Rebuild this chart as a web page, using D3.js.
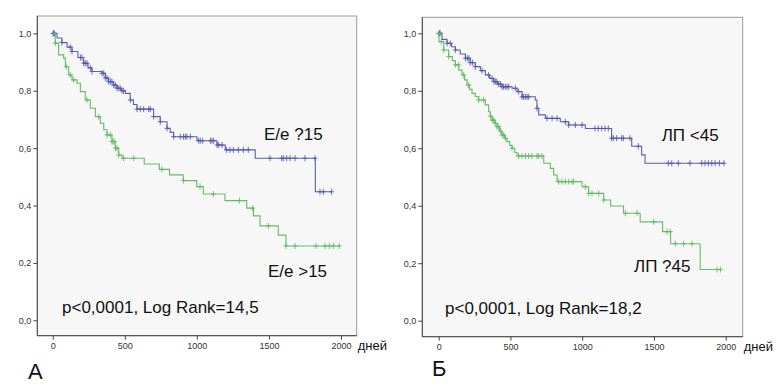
<!DOCTYPE html>
<html><head><meta charset="utf-8">
<script src="https://cdn.jsdelivr.net/npm/d3@7"></script>
<style>
html,body{margin:0;padding:0;background:#fff;}
svg{display:block;}
text{font-family:"Liberation Sans",Arial,sans-serif;}
</style></head>
<body>
<svg id="c" width="782" height="391"></svg>
<script>
// ---------- DATA ----------
const yTicks = [0, 0.2, 0.4, 0.6, 0.8, 1.0];
const xTicks = [0, 500, 1000, 1500, 2000];
const xUnit = "дней";

// Panel A: E/e <=15 (blue) and E/e >15 (green). [time, survival after step]
const stepsA_low = [[0,1.0],[30,0.984],[64,0.968],[100,0.952],[134,0.937],[175,0.916],[215,0.896],[245,0.88],[272,0.867],[342,0.861],[365,0.845],[388,0.832],[420,0.82],[446,0.809],[475,0.80],[504,0.791],[538,0.768],[560,0.752],[585,0.736],[700,0.710],[746,0.692],[793,0.669],[815,0.655],[839,0.640],[1001,0.626],[1140,0.611],[1197,0.594],[1405,0.565],[1822,0.448]];
const endA_low = 1937;
const censA_low = [3,8,11,64,122,134,192,203,215,226,238,261,273,342,354,365,377,388,400,411,423,434,446,458,469,481,492,539,585,608,631,666,677,700,746,793,839,885,907,920,931,955,1013,1024,1040,1094,1105,1117,1140,1152,1175,1207,1230,1253,1288,1322,1357,1507,1589,1600,1623,1646,1681,1750,1820,1854,1877,1935];

const stepsA_high = [[0,1.0],[18,0.966],[41,0.925],[76,0.913],[88,0.884],[111,0.855],[134,0.838],[169,0.826],[192,0.797],[226,0.768],[261,0.739],[296,0.710],[330,0.687],[354,0.664],[377,0.646],[411,0.623],[434,0.600],[458,0.576],[481,0.565],[635,0.545],[740,0.526],[810,0.507],[905,0.487],[999,0.466],[1045,0.440],[1195,0.417],[1346,0.391],[1392,0.364],[1438,0.329],[1565,0.297],[1618,0.259]];
const endA_high = 1993;
const censA_high = [18,94,122,145,238,319,377,400,411,418,427,436,446,458,492,562,758,908,1022,1114,1295,1387,1496,1618,1681,1827,1889,1919,1947,1988];

// Panel Б: ЛП <45 (blue) and ЛП >=45 (green)
const stepsB_low = [[0,1.0],[23,0.979],[58,0.965],[90,0.953],[116,0.942],[150,0.928],[186,0.913],[220,0.898],[255,0.884],[290,0.87],[325,0.855],[355,0.843],[383,0.832],[410,0.823],[441,0.814],[511,0.809],[546,0.797],[581,0.779],[673,0.768],[685,0.739],[697,0.716],[743,0.704],[847,0.692],[906,0.681],[1022,0.669],[1205,0.635],[1345,0.607],[1414,0.577],[1438,0.548]];
const endB_low = 1995;
const censB_low = [5,10,58,81,116,186,200,210,220,235,255,302,348,372,385,395,405,418,430,441,452,464,476,488,534,557,581,592,604,616,627,685,755,790,825,882,906,952,999,1089,1112,1136,1159,1182,1205,1217,1240,1275,1287,1333,1391,1600,1624,1670,1751,1833,1856,1879,1903,1926,1956,1988];

const stepsB_high = [[0,1.0],[2,0.971],[35,0.942],[70,0.919],[95,0.905],[116,0.890],[140,0.872],[162,0.855],[180,0.838],[197,0.820],[215,0.805],[232,0.791],[255,0.78],[279,0.768],[325,0.751],[348,0.727],[360,0.712],[372,0.698],[390,0.687],[406,0.675],[425,0.66],[441,0.646],[460,0.635],[476,0.623],[495,0.61],[511,0.600],[530,0.585],[546,0.573],[732,0.548],[778,0.530],[801,0.507],[825,0.484],[999,0.466],[1045,0.443],[1150,0.420],[1198,0.399],[1288,0.374],[1404,0.344],[1560,0.310],[1616,0.268],[1822,0.178]];
const endB_high = 1962;
const censB_high = [0,18,35,70,116,139,174,209,279,313,360,372,383,395,406,418,430,441,453,465,511,557,581,604,627,650,685,697,720,836,859,882,906,929,941,1022,1045,1068,1115,1150,1301,1382,1498,1591,1614,1649,1707,1765,1940,1963];

const labelsA = {hi:"E/e ?15", lo:"E/e >15", stat:"p<0,0001, Log Rank=14,5", panel:"А"};
const labelsB = {hi:"ЛП <45", lo:"ЛП ?45", stat:"p<0,0001, Log Rank=18,2", panel:"Б"};

// ---------- STYLE / LAYOUT ----------
const BLUE = "#5257aa", GREEN = "#5fb75f";
const panels = [
  {frame:[37.3,16,356.7,335.7], x:[52.7,341], y:[320.3,33.4],
   series:[{steps:stepsA_low,end:endA_low,cens:censA_low,color:BLUE},
           {steps:stepsA_high,end:endA_high,cens:censA_high,color:GREEN}],
   labels:labelsA,
   pos:{hi:[264,140],lo:[268,276.7],stat:[62,312.7],panel:[28,379.3]}},
  {frame:[422.3,17.3,742.7,336.7], x:[438.7,725.7], y:[320.7,33.3],
   series:[{steps:stepsB_low,end:endB_low,cens:censB_low,color:BLUE},
           {steps:stepsB_high,end:endB_high,cens:censB_high,color:GREEN}],
   labels:labelsB,
   pos:{hi:[661.7,140.7],lo:[634,272],stat:[445,314],panel:[432,376]}}
];

const svg = d3.select("#c");
const fmt = d => d3.format(".1f")(d).replace(".", ",");

function survAt(steps, t){
  let s = steps[0][1];
  for (const [tt, v] of steps){ if (tt <= t) s = v; else break; }
  return s;
}

panels.forEach(p => {
  const [fx0, fy0, fx1, fy1] = p.frame;
  const x = d3.scaleLinear().domain([0, 2000]).range(p.x);
  const y = d3.scaleLinear().domain([0, 1]).range(p.y);
  const g = svg.append("g");

  g.append("rect").attr("x", fx0).attr("y", fy0).attr("width", fx1 - fx0).attr("height", fy1 - fy0)
    .attr("fill", "#f7f7f7").attr("stroke", "#9a9a9a").attr("stroke-width", 1);

  // axes
  const ya = d3.axisLeft(y).tickValues(yTicks).tickFormat(fmt).tickSize(4).tickPadding(2);
  const yg = g.append("g").attr("transform", `translate(${fx0},0)`).call(ya);
  const xa = d3.axisBottom(x).tickValues(xTicks).tickFormat(d3.format("d")).tickSize(4).tickPadding(3);
  const xg = g.append("g").attr("transform", `translate(0,${fy1})`).call(xa);
  [yg, xg].forEach(a => {
    a.select(".domain").remove();
    a.selectAll("line").attr("stroke", "#444");
    a.selectAll("text").attr("fill", "#333").style("font-size", "9px")
      .style("font-family", "'Liberation Sans', Arial, sans-serif");
  });
  g.append("line").attr("x1", fx0).attr("x2", fx0).attr("y1", fy0).attr("y2", fy1).attr("stroke", "#444");
  g.append("line").attr("x1", fx0).attr("x2", fx1).attr("y1", fy1).attr("y2", fy1).attr("stroke", "#444");

  g.append("text").attr("x", fx1 + 1).attr("y", fy1 + 14.3).text(xUnit)
    .style("font-size", "13px").attr("fill", "#111");

  // curves
  const line = d3.line().x(d => x(d[0])).y(d => y(d[1])).curve(d3.curveStepAfter);
  p.series.forEach(s => {
    const pts = s.steps.concat([[s.end, s.steps[s.steps.length - 1][1]]]);
    g.append("path").datum(pts).attr("d", line).attr("fill", "none")
      .attr("stroke", s.color).attr("stroke-width", 1.1).attr("stroke-opacity", 0.95);
    const cg = g.append("g").attr("stroke", s.color).attr("stroke-width", 1).attr("stroke-opacity", 0.85);
    s.cens.forEach(t => {
      const cx = x(t), cy = y(survAt(s.steps, t));
      cg.append("line").attr("x1", cx).attr("x2", cx).attr("y1", cy - 3).attr("y2", cy + 3);
      cg.append("line").attr("x1", cx - 2.5).attr("x2", cx + 2.5).attr("y1", cy).attr("y2", cy);
    });
  });

  // annotations
  const L = p.labels, P = p.pos;
  g.append("text").attr("x", P.hi[0]).attr("y", P.hi[1]).text(L.hi).style("font-size", "17px").attr("fill", "#111");
  g.append("text").attr("x", P.lo[0]).attr("y", P.lo[1]).text(L.lo).style("font-size", "17px").attr("fill", "#111");
  g.append("text").attr("x", P.stat[0]).attr("y", P.stat[1]).text(L.stat).style("font-size", "17px").attr("fill", "#111");
  g.append("text").attr("x", P.panel[0]).attr("y", P.panel[1]).text(L.panel).style("font-size", "22px").attr("fill", "#111");
});
</script>
</body></html>
